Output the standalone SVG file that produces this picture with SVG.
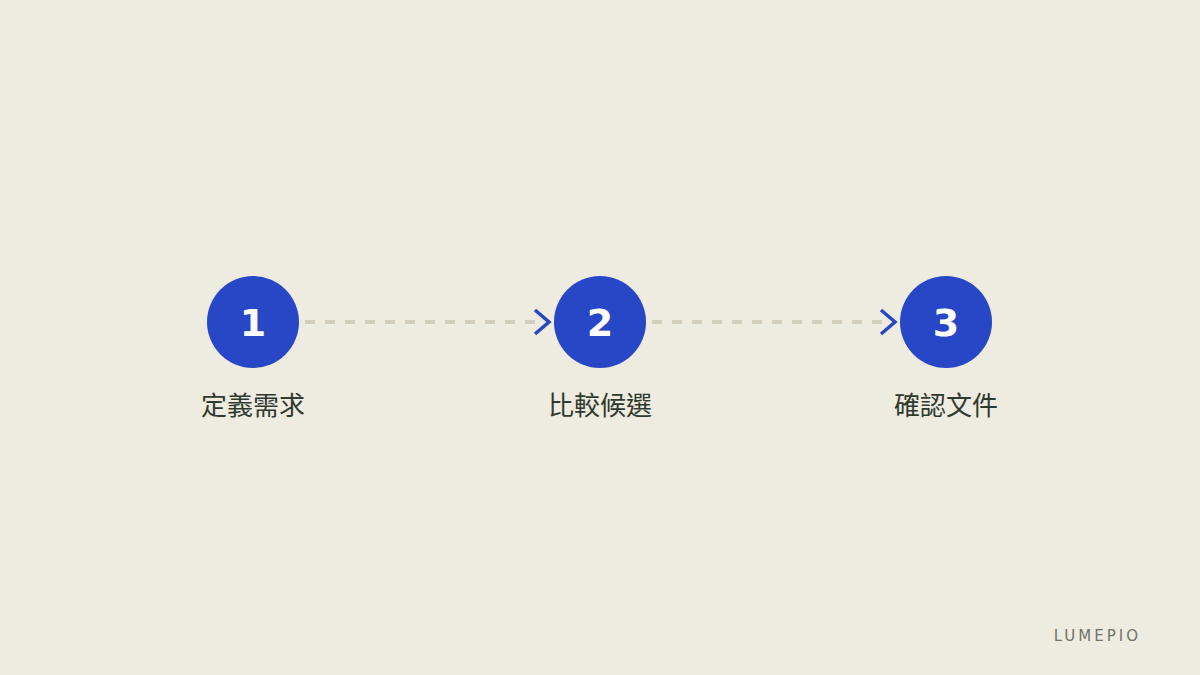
<svg xmlns="http://www.w3.org/2000/svg" width="1200" height="675" viewBox="0 0 1200 675">
<style>
.node circle{fill:#2747c7}
.num{font-family:"DejaVu Sans",sans-serif;font-weight:bold;font-size:38px;fill:#ffffff;text-anchor:middle}
.lbl{font-family:"Noto Sans CJK TC","Noto Sans CJK SC",sans-serif;font-size:26px;fill:#2f3a2f;text-anchor:middle}
.dash{stroke:#d2cdbd;stroke-width:4;stroke-dasharray:10 10;fill:none}
.chev{stroke:#2747c7;stroke-width:3.5;fill:none}
</style>
<rect width="1200" height="675" fill="#eeebe0"/>
<g id="connectors">
<line class="dash" x1="305" y1="322" x2="540" y2="322"/>
<polyline class="chev" points="535,310 549,322 535,334"/>
<line class="dash" x1="652" y1="322" x2="887" y2="322"/>
<polyline class="chev" points="881,310 895,322 881,334"/>
</g>
<g id="node1" class="node">
<circle cx="253" cy="322" r="46"/>
<text class="num" x="253" y="336">1</text>
<text class="lbl" x="253" y="415">定義需求</text>
</g>
<g id="node2" class="node">
<circle cx="600" cy="322" r="46"/>
<text class="num" x="600" y="336">2</text>
<text class="lbl" x="600" y="415">比較候選</text>
</g>
<g id="node3" class="node">
<circle cx="946" cy="322" r="46"/>
<text class="num" x="946" y="336">3</text>
<text class="lbl" x="946" y="415">確認文件</text>
</g>
<text x="1141" y="641" font-family="DejaVu Sans,sans-serif" font-size="15" letter-spacing="3" fill="#6f746a" text-anchor="end">LUMEPIO</text>
</svg>
